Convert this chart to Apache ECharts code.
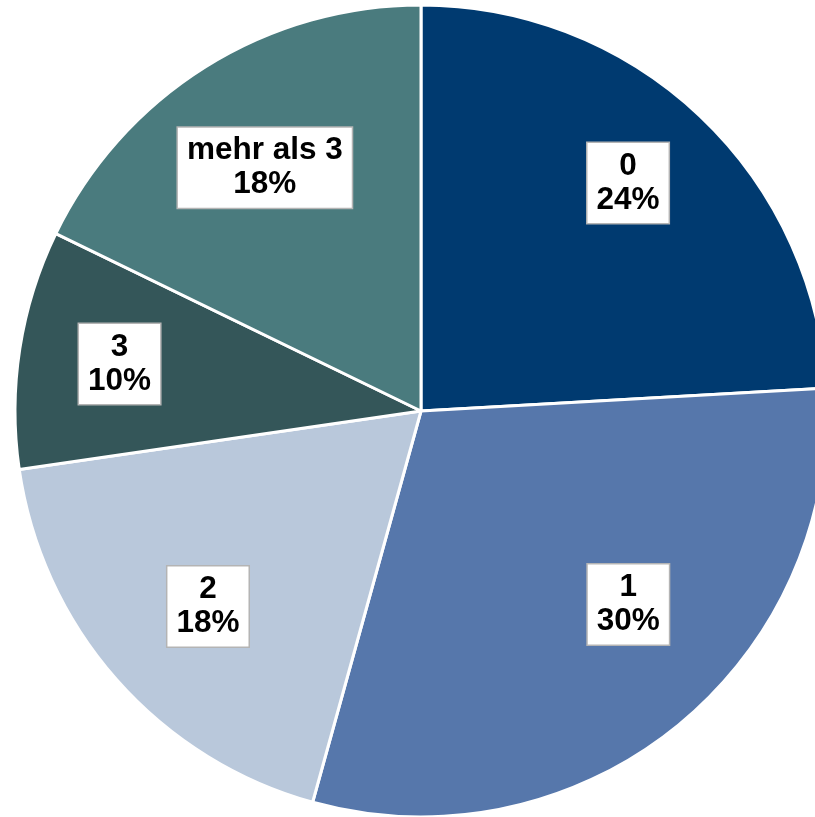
<!DOCTYPE html>
<html>
<head>
<meta charset="utf-8">
<script src="https://cdn.jsdelivr.net/npm/echarts@6/dist/echarts.min.js"></script>
<style>html,body{margin:0;padding:0;background:#fff}#c{width:815px;height:817px}</style>
</head>
<body>
<div id="c"></div>
<script>
const categories = ["0", "1", "2", "3", "mehr als 3"];
const values = [24.1, 30.2, 18.4, 9.5, 17.8];
const pctLabels = ["24%", "30%", "18%", "10%", "18%"];
const colors = ["#003A70", "#5677AB", "#B9C8DB", "#345659", "#4A7B7E"];

const chart = echarts.init(document.getElementById('c'), null, {renderer: 'canvas'});
const center = ['421px', '411px'];
const labelOffsets = [[1, -10], [19, -40], [12, -3], [-5, -1], [3, 11]];

const baseData = categories.map((c, i) => ({
  name: c, value: values[i], itemStyle: {color: colors[i]}
}));
const labelData = categories.map((c, i) => ({
  name: c, value: values[i], label: {offset: labelOffsets[i]}
}));

chart.setOption({
  animation: false,
  series: [
    {
      type: 'pie',
      center: center,
      radius: [0, 406],
      startAngle: 90,
      clockwise: true,
      silent: true,
      label: {show: false},
      labelLine: {show: false},
      itemStyle: {borderColor: '#ffffff', borderWidth: 3},
      data: baseData
    },
    {
      type: 'pie',
      center: center,
      radius: [198, 396],
      startAngle: 90,
      clockwise: true,
      silent: true,
      itemStyle: {color: 'rgba(0,0,0,0)', borderWidth: 0},
      labelLine: {show: false},
      label: {
        show: true,
        position: 'inside',
        formatter: p => categories[p.dataIndex] + '\n' + pctLabels[p.dataIndex],
        color: '#000',
        fontFamily: 'Liberation Sans, Arial, sans-serif',
        fontWeight: 'bold',
        fontSize: 31.5,
        lineHeight: 34,
        align: 'center',
        backgroundColor: '#ffffff',
        borderColor: '#b4b4b4',
        borderWidth: 1.5,
        padding: [7, 9, 5, 9]
      },
      data: labelData
    }
  ]
});
</script>
</body>
</html>
